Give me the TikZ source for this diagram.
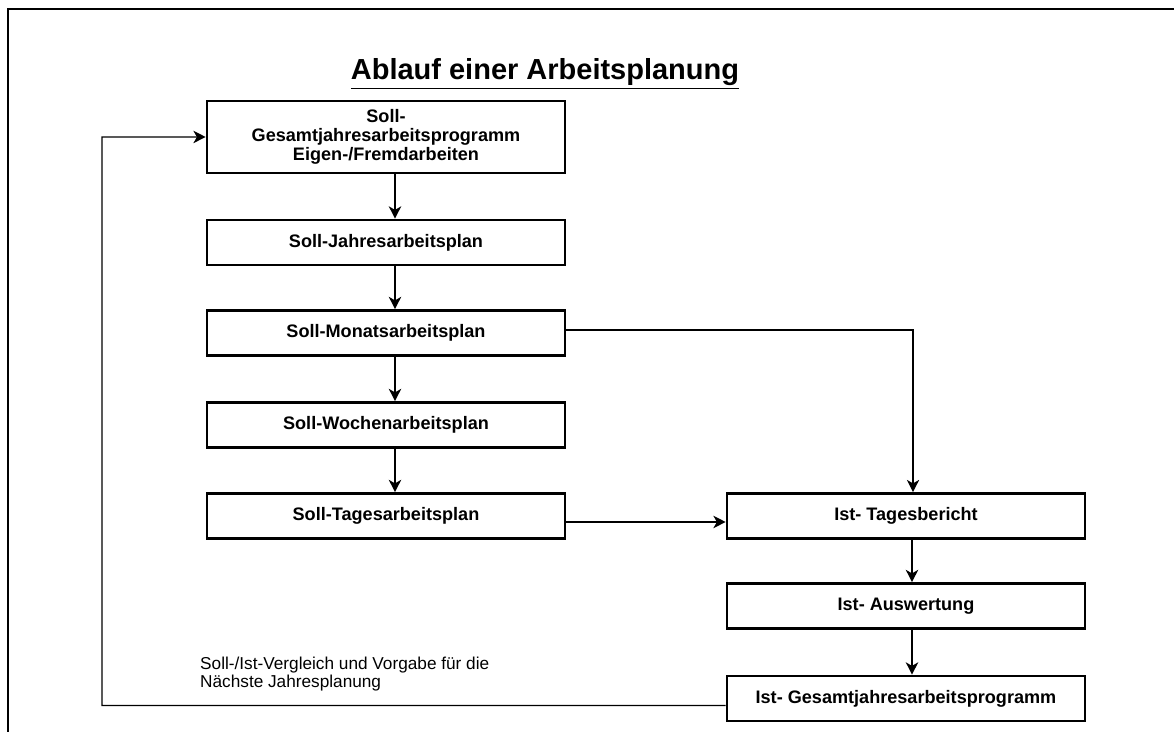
\documentclass[tikz,border=0pt]{standalone}
\usepackage{fontspec}
\setmainfont{Liberation Sans}
\usetikzlibrary{arrows.meta}

\tikzset{
  plan/.style={draw, line width=1.5pt, minimum width=7.16cm, minimum height=0.9cm,
    inner sep=0pt, align=center, font=\bfseries\fontsize{10.3}{10.8}\selectfont},
  flow/.style={line width=1pt, -{Stealth[length=7pt,width=7pt,inset=2pt]}},
}

\begin{document}
\begin{tikzpicture}[x=0.02cm, y=-0.02cm]
\useasboundingbox (0,0) rectangle (1174,732);
% the page frame, only its left and top edges show
\draw[line width=0.8pt] (8,732) -- (8,9) -- (1174,9);
\node[font=\bfseries\fontsize{16.5}{19}\selectfont] (title) at (545,74) {\underline{Ablauf einer Arbeitsplanung}};
% the planned side, from the year down to the day
\node[plan, minimum height=1.44cm] (gesamt) at (386,137) {Soll-\\Gesamtjahresarbeitsprogramm\\Eigen-/Fremdarbeiten};
\node[plan] (jahr)  at (386,242.5) {Soll-Jahresarbeitsplan};
\node[plan] (monat) at (386,333) {Soll-Monatsarbeitsplan};
\node[plan] (woche) at (386,425) {Soll-Wochenarbeitsplan};
\node[plan] (tag)   at (386,516) {Soll-Tagesarbeitsplan};
% the actual side
\node[plan] (bericht)   at (906,516) {Ist- Tagesbericht};
\node[plan] (auswert)   at (906,606) {Ist- Auswertung};
\node[plan] (istgesamt) at (906,698.5) {Ist- Gesamtjahresarbeitsprogramm};
\node[anchor=west, align=left, font=\fontsize{9.8}{10.2}\selectfont] (vergleich) at (194,674)
  {Soll-/Ist-Vergleich und Vorgabe für die\\Nächste Jahresplanung};
% arrows down each column
\draw[flow] ([xshift=0.18cm]gesamt.south) -- ([xshift=0.18cm]jahr.north);
\draw[flow] ([xshift=0.18cm]jahr.south) -- ([xshift=0.18cm]monat.north);
\draw[flow] ([xshift=0.18cm]monat.south) -- ([xshift=0.18cm]woche.north);
\draw[flow] ([xshift=0.18cm]woche.south) -- ([xshift=0.18cm]tag.north);
\draw[flow] ([xshift=0.12cm]bericht.south) -- ([xshift=0.12cm]auswert.north);
\draw[flow] ([xshift=0.12cm]auswert.south) -- ([xshift=0.12cm]istgesamt.north);
% plan to report
\draw[flow, line width=0.8pt] ([yshift=0.06cm]monat.east) -| ([xshift=0.14cm]bericht.north);
\draw[flow] ([yshift=-0.12cm]tag.east) -- ([yshift=-0.12cm]bericht.west);
% the loop back to next year
\coordinate (turn) at (102,705.5);
\draw[flow, line width=0.8pt] ([yshift=-0.14cm]istgesamt.west) -- (turn) |- (gesamt.west);
\end{tikzpicture}
\end{document}
